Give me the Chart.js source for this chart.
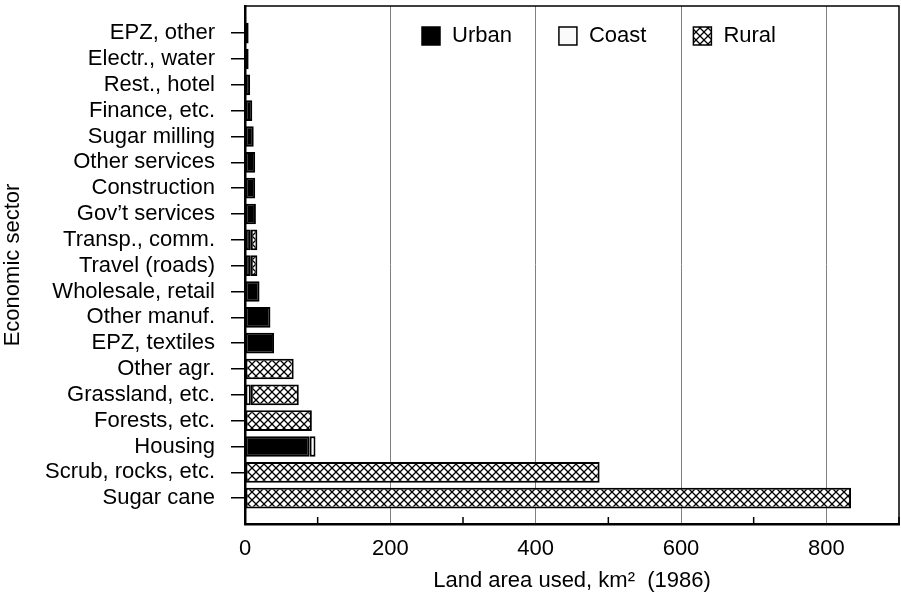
<!DOCTYPE html>
<html>
<head>
<meta charset="utf-8">
<script src="https://cdn.jsdelivr.net/npm/chart.js@4.4.1/dist/chart.umd.min.js"></script>
<style>
  html, body { margin: 0; padding: 0; background: #fff; }
  #wrap { width: 901px; height: 594px; }
</style>
</head>
<body>
<div id="wrap"><canvas id="landChart" width="901" height="594"></canvas></div>
<script>
// sectors, top to bottom
const sectors = [
  'EPZ, other', 'Electr., water', 'Rest., hotel', 'Finance, etc.', 'Sugar milling',
  'Other services', 'Construction', 'Gov\u2019t services', 'Transp., comm.', 'Travel (roads)',
  'Wholesale, retail', 'Other manuf.', 'EPZ, textiles', 'Other agr.', 'Grassland, etc.',
  'Forests, etc.', 'Housing', 'Scrub, rocks, etc.', 'Sugar cane'
];
// land area used, km2 (1986)
const urban = [5, 5, 7, 10, 12, 14, 14, 15, 8, 8, 20, 35, 40, 0, 0, 0, 89, 0, 0];
const coast = [0, 0, 0, 0, 0, 0, 0, 0, 0, 0, 0, 0, 0, 0, 8, 0, 8, 0, 0];
const rural = [0, 0, 0, 0, 0, 0, 0, 0, 9, 9, 0, 0, 0, 67, 66, 92, 0, 488, 834];
const xTicks = [0, 200, 400, 600, 800];

const FONT = "'Liberation Sans', Arial, Helvetica, sans-serif";
Chart.defaults.font.family = FONT;
Chart.defaults.font.size = 22;
Chart.defaults.color = '#000';

// cross hatch for the rural bars
function makeHatch() {
  const c = document.createElement('canvas');
  c.width = 8; c.height = 8;
  const g = c.getContext('2d');
  g.fillStyle = '#fff';
  g.fillRect(0, 0, 8, 8);
  g.strokeStyle = '#000';
  g.lineWidth = 1.3;
  g.beginPath();
  g.moveTo(0, 0); g.lineTo(8, 8);
  g.moveTo(8, 0); g.lineTo(0, 8);
  g.stroke();
  return g.createPattern(c, 'repeat');
}

const toPoints = arr => arr.map((v, i) => ({ x: v > 0 ? v : null, y: i }));

// legend inside the plot, boxes + labels
const boxLegend = {
  id: 'boxLegend',
  afterDraw(chart) {
    const ctx = chart.ctx, area = chart.chartArea;
    let x = area.left + 177;
    const y = area.top + 30;
    ctx.save();
    ctx.font = '22px ' + FONT;
    ctx.textBaseline = 'middle';
    ctx.textAlign = 'left';
    chart.data.datasets.forEach(ds => {
      ctx.fillStyle = ds.backgroundColor;
      ctx.fillRect(x, y - 9, 18, 18);
      ctx.lineWidth = 1.5;
      ctx.strokeStyle = '#000';
      ctx.strokeRect(x, y - 9, 18, 18);
      ctx.fillStyle = '#000';
      ctx.fillText(ds.label, x + 30, y);
      x += 30 + ctx.measureText(ds.label).width + 47;
    });
    ctx.restore();
  }
};

// frame around the plot and small inward ticks at the odd hundreds
const frame = {
  id: 'frame',
  afterDatasetsDraw(chart) {
    const ctx = chart.ctx, a = chart.chartArea, xs = chart.scales.x;
    ctx.save();
    ctx.strokeStyle = '#000';
    ctx.lineWidth = 1.5;
    ctx.strokeRect(a.left, a.top, a.right - a.left, a.bottom - a.top);
    xs.ticks.forEach(t => {
      if (t.value % 200 === 100) {
        const px = xs.getPixelForValue(t.value);
        ctx.beginPath();
        ctx.moveTo(px, a.bottom);
        ctx.lineTo(px, a.bottom - 7);
        ctx.stroke();
      }
    });
    ctx.restore();
  }
};

const barStyle = { borderColor: '#000', borderWidth: 2, borderSkipped: false, categoryPercentage: 0.8, barPercentage: 1 };

new Chart(document.getElementById('landChart'), {
  type: 'bar',
  data: {
    datasets: [
      Object.assign({ label: 'Urban', data: toPoints(urban), backgroundColor: '#000' }, barStyle),
      Object.assign({ label: 'Coast', data: toPoints(coast), backgroundColor: '#fafafa' }, barStyle),
      Object.assign({ label: 'Rural', data: toPoints(rural), backgroundColor: makeHatch() }, barStyle)
    ]
  },
  options: {
    indexAxis: 'y',
    responsive: false,
    animation: false,
    layout: { padding: { top: 6, right: 2, left: 0, bottom: 0 } },
    plugins: { legend: { display: false }, tooltip: { enabled: false } },
    scales: {
      x: {
        type: 'linear',
        stacked: true,
        min: 0,
        max: 900,
        border: { display: true, color: '#000', width: 2.5 },
        grid: {
          drawTicks: false,
          lineWidth: 1,
          color: ctx => (ctx.tick && ctx.tick.value > 0 && ctx.tick.value % 200 === 0) ? '#808080' : 'rgba(0,0,0,0)'
        },
        ticks: {
          stepSize: 100,
          autoSkip: false,
          maxRotation: 0,
          padding: 12,
          callback: v => xTicks.includes(v) ? String(v) : ''
        },
        title: {
          display: true,
          text: 'Land area used, km\u00B2  (1986)',
          padding: { top: 1, bottom: 0 }
        },
        afterFit: s => { s.height = 70; s.paddingLeft = 0; s.paddingRight = 0; }
      },
      y: {
        type: 'linear',
        stacked: true,
        reverse: true,
        offset: false,
        min: -1.05,
        max: 19,
        border: { display: true, color: '#000', width: 2.5 },
        grid: {
          offset: false,
          drawOnChartArea: false,
          drawTicks: true,
          tickLength: 14,
          lineWidth: 1.5,
          color: ctx => (ctx.tick && ctx.tick.value >= 0 && ctx.tick.value < sectors.length) ? '#000' : 'rgba(0,0,0,0)'
        },
        ticks: {
          stepSize: 1,
          includeBounds: false,
          autoSkip: false,
          padding: 16,
          callback: v => (Number.isInteger(v) && sectors[v]) ? sectors[v] : ''
        },
        title: {
          display: true,
          text: 'Economic sector',
          padding: { top: 0, bottom: 0 }
        },
        afterFit: s => { s.width = 245; s.paddingTop = 0; s.paddingBottom = 0; }
      }
    }
  },
  plugins: [boxLegend, frame]
});
</script>
</body>
</html>
